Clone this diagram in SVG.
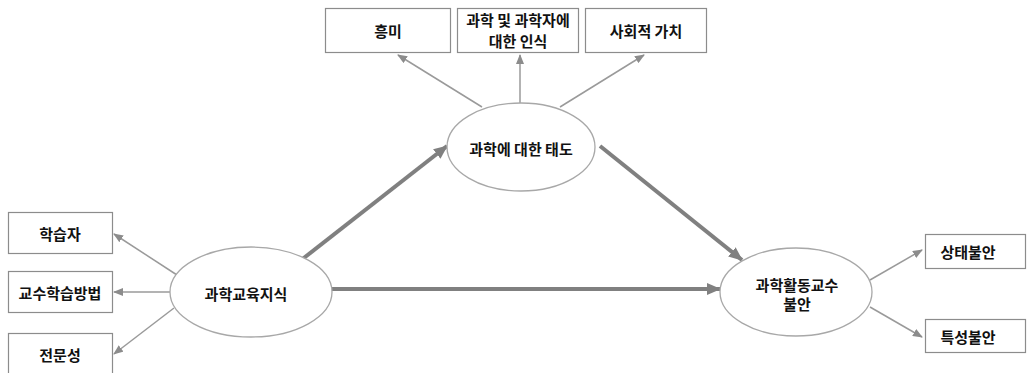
<svg xmlns="http://www.w3.org/2000/svg" width="1029" height="373" viewBox="0 0 1029 373">
<style>
.box{fill:#fff;stroke:#8c8c8c;stroke-width:1.2}
.ell{fill:#fff;stroke:#a8a8a8;stroke-width:1.3}
.t{font-family:"Noto Sans CJK KR","Noto Sans",sans-serif;font-weight:bold;font-size:15px;fill:#111;text-anchor:middle;dominant-baseline:central}
.thin{stroke:#9a9a9a;stroke-width:1.5;fill:none;marker-end:url(#ah)}
.thick{stroke:#808080;stroke-width:4;fill:none;marker-end:url(#ahb)}
</style>
<defs>
<marker id="ah" markerWidth="10" markerHeight="8" refX="9" refY="4" orient="auto" markerUnits="userSpaceOnUse">
<path d="M0,0 L10,4 L0,8 z" fill="#8c8c8c"/>
</marker>
<marker id="ahb" markerWidth="14" markerHeight="12" refX="13" refY="6" orient="auto" markerUnits="userSpaceOnUse">
<path d="M0,0 L14,6 L0,12 z" fill="#808080"/>
</marker>
</defs>
<rect width="1029" height="373" fill="#fff"/>
<g id="connectors">
<line class="thin" x1="482" y1="107" x2="398" y2="55"/>
<line class="thin" x1="520" y1="103" x2="520" y2="55"/>
<line class="thin" x1="560" y1="107" x2="644" y2="55"/>
<line class="thin" x1="177" y1="275" x2="114" y2="234"/>
<line class="thin" x1="170" y1="292" x2="114" y2="292"/>
<line class="thin" x1="174" y1="308" x2="114" y2="354"/>
<line class="thin" x1="870" y1="280" x2="922" y2="250"/>
<line class="thin" x1="870" y1="307" x2="922" y2="337"/>
<line class="thick" x1="300" y1="261" x2="447" y2="146"/>
<line class="thick" x1="600" y1="146" x2="742" y2="260"/>
<line class="thick" x1="322" y1="289" x2="720" y2="289"/>
</g>
<g id="n-interest"><rect class="box" x="325.5" y="8.5" width="125" height="44"/><text class="t" x="388" y="30">흥미</text></g>
<g id="n-perception"><rect class="box" x="457.5" y="8.5" width="121" height="44"/><text class="t" x="518" y="19">과학 및 과학자에</text><text class="t" x="518" y="40">대한 인식</text></g>
<g id="n-social"><rect class="box" x="585.5" y="8.5" width="121" height="44"/><text class="t" x="646" y="30">사회적 가치</text></g>
<g id="n-attitude"><ellipse class="ell" cx="521" cy="147" rx="74" ry="44"/><text class="t" x="521" y="148">과학에 대한 태도</text></g>
<g id="n-learner"><rect class="box" x="8.5" y="212.5" width="104" height="41"/><text class="t" x="60" y="233">학습자</text></g>
<g id="n-method"><rect class="box" x="8.5" y="271.5" width="104" height="41"/><text class="t" x="60" y="292">교수학습방법</text></g>
<g id="n-expertise"><rect class="box" x="8.5" y="333.5" width="104" height="45"/><text class="t" x="60" y="354">전문성</text></g>
<g id="n-knowledge"><ellipse class="ell" cx="251" cy="292" rx="81" ry="45"/><text class="t" x="246" y="293">과학교육지식</text></g>
<g id="n-anxiety"><ellipse class="ell" cx="796" cy="292" rx="76" ry="44"/><text class="t" x="797" y="284">과학활동교수</text><text class="t" x="797" y="303">불안</text></g>
<g id="n-state"><rect class="box" x="925.5" y="234.5" width="100" height="34"/><text class="t" x="968" y="251">상태불안</text></g>
<g id="n-trait"><rect class="box" x="925.5" y="319.5" width="100" height="33"/><text class="t" x="968" y="336">특성불안</text></g>
</svg>
